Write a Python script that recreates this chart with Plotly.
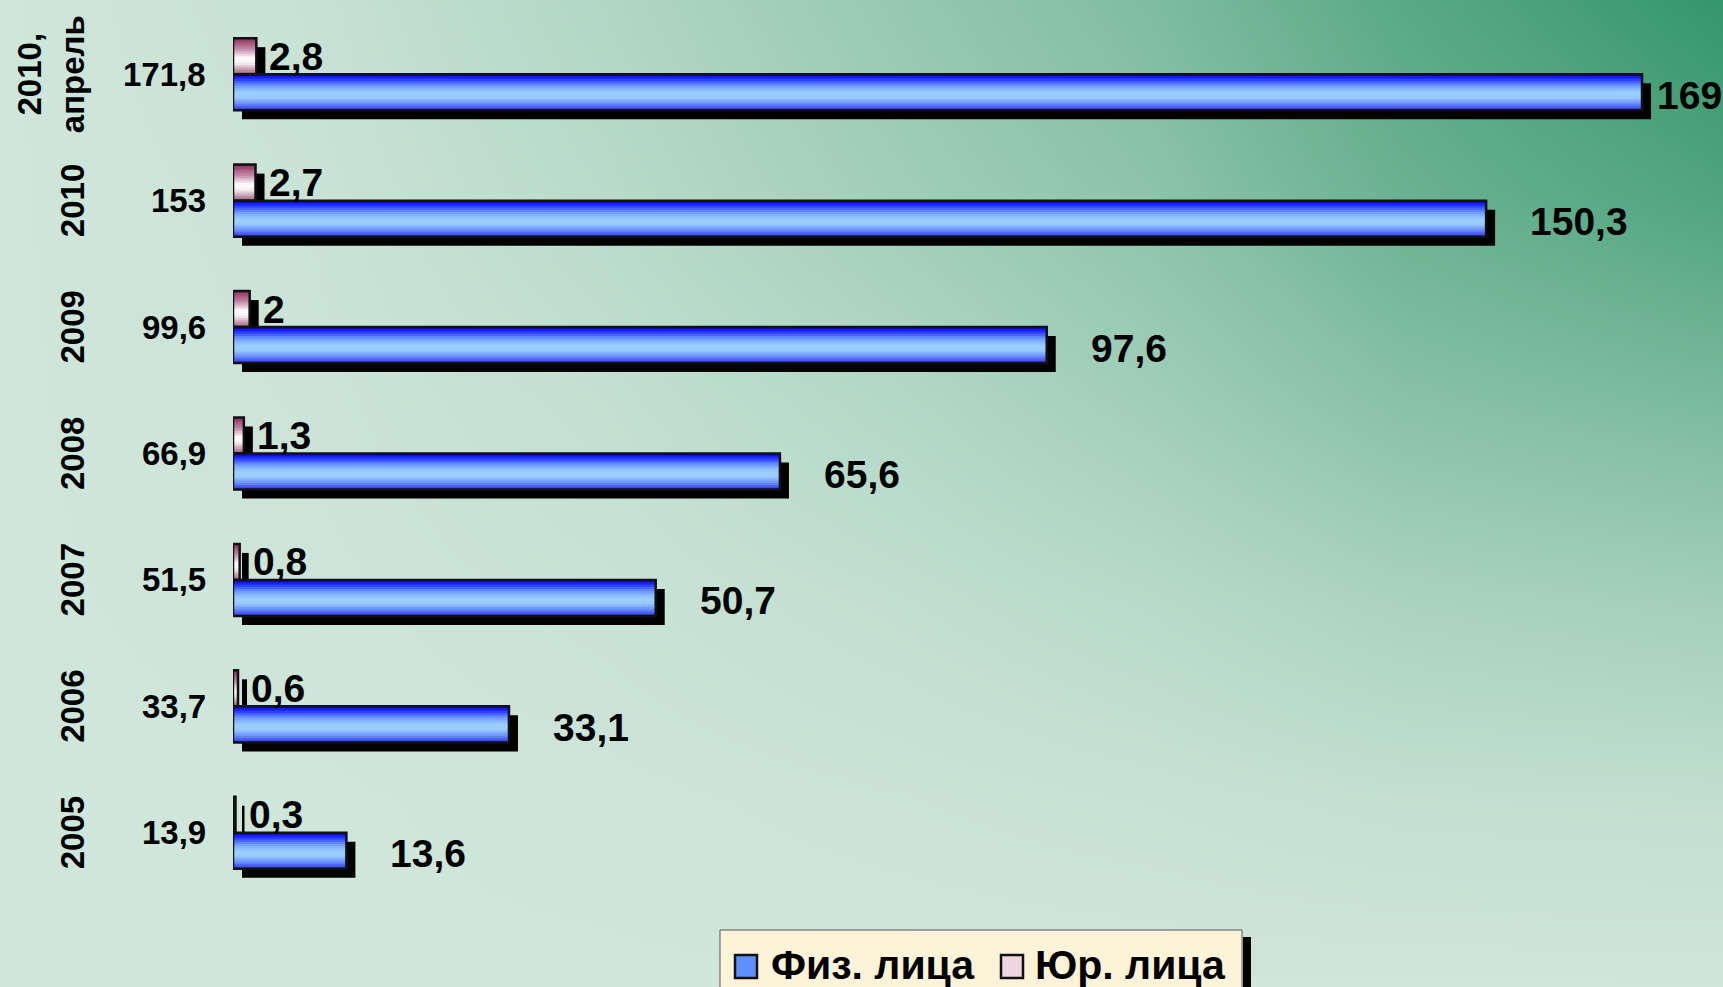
import plotly.graph_objects as go

# ---------------- data ----------------
years = ["2005", "2006", "2007", "2008", "2009", "2010", "2010,<br>апрель"]
fiz = [13.6, 33.1, 50.7, 65.6, 97.6, 150.3, 169]        # Физ. лица
yur = [0.3, 0.6, 0.8, 1.3, 2, 2.7, 2.8]                 # Юр. лица
totals = [13.9, 33.7, 51.5, 66.9, 99.6, 153, 171.8]
series_names = ["Физ. лица", "Юр. лица"]

# ---------------- geometry / style ----------------
W, H = 1723, 987
PL, PR = 233, 1720          # plot area left/right (px)
PT, PB = 11, 896            # plot area top/bottom (px)
XMAX = 178.35
pos = list(range(len(years)))
BH = 0.285                  # bar thickness (category units)
px_per_x = (PR - PL) / XMAX
px_per_y = (PB - PT) / 7.0
SHX = 9 / px_per_x
SHY = 9 / px_per_y
K = 16
FONT = "Liberation Sans, Arial, sans-serif"


def px2paper_x(p):
    return p / W


def px2paper_y(p):
    return 1 - p / H


def hex2rgb(h):
    h = h.lstrip("#")
    return tuple(int(h[i:i + 2], 16) for i in (0, 2, 4))


def grad(stops, f):
    for (f0, c0), (f1, c1) in zip(stops, stops[1:]):
        if f0 <= f <= f1:
            t = (f - f0) / (f1 - f0) if f1 > f0 else 0
            a, b = hex2rgb(c0), hex2rgb(c1)
            return "rgb(%d,%d,%d)" % tuple(round(a[i] + (b[i] - a[i]) * t) for i in range(3))
    return stops[-1][1]


fiz_stops = [(0, "#0000e0"), (0.12, "#1f2cff"), (0.32, "#6e9cff"), (0.5, "#9ccdff"),
             (0.64, "#9ccdff"), (0.82, "#6a8cff"), (1.0, "#2a30ee")]
yur_stops = [(0, "#8a2c5a"), (0.3, "#c48aa6"), (0.55, "#ffffff"), (0.7, "#f7eff3"),
             (1.0, "#9a5878")]

fig = go.Figure()

# ---------------- background gradient (heatmap on full paper) ----------------
bg_x = [0, 300, 600, 900, 1150, 1400, 1723]
bg_y = [0, 200, 400, 600, 800, 987]
bg_z = [
    [0.00, 0.05, 0.19, 0.37, 0.52, 0.76, 1.00],
    [0.00, 0.03, 0.14, 0.30, 0.43, 0.65, 0.82],
    [0.00, 0.02, 0.08, 0.18, 0.30, 0.46, 0.55],
    [0.00, 0.01, 0.04, 0.09, 0.15, 0.24, 0.29],
    [0.00, 0.00, 0.01, 0.03, 0.05, 0.08, 0.09],
    [0.00, 0.00, 0.00, 0.00, 0.00, 0.00, 0.00],
]
fig.add_trace(go.Heatmap(x=bg_x, y=bg_y, z=bg_z, zsmooth="best", zmin=0, zmax=1,
                         colorscale=[[0, "#cfe6da"], [1, "#35966a"]], showscale=False,
                         hoverinfo="skip", xaxis="x", yaxis="y"))

# ---------------- bars ----------------
specs = [
    (yur, 0.0, yur_stops),      # upper bar in the group
    (fiz, -BH, fiz_stops),      # lower bar in the group
]

# shadows
for vals, off, _ in specs:
    fig.add_trace(go.Bar(x=vals, y=pos, orientation="h", base=SHX, offset=off - SHY,
                         width=BH, marker=dict(color="black", line=dict(width=0)),
                         showlegend=False, hoverinfo="skip", xaxis="x2", yaxis="y2"))

# gradient strips
d = BH / K
for vals, off, stops in specs:
    for j in range(K):
        f = 1 - (j + 0.5) / K
        w = min(BH - j * d, 1.6 * d)
        fig.add_trace(go.Bar(x=vals, y=pos, orientation="h", offset=off + j * d, width=w,
                             marker=dict(color=grad(stops, f), line=dict(width=0)),
                             showlegend=False, hoverinfo="skip", xaxis="x2", yaxis="y2"))

# outlines
for vals, off, _ in specs:
    fig.add_trace(go.Bar(x=vals, y=pos, orientation="h", offset=off, width=BH,
                         marker=dict(color="rgba(0,0,0,0)", line=dict(color="#111111", width=2.5)),
                         showlegend=False, hoverinfo="skip", xaxis="x2", yaxis="y2"))


def fmt(v):
    return ("%g" % v).replace(".", ",")


ann = []
# year labels (rotated)
for p, lab in zip(pos, years):
    ann.append(dict(x=px2paper_x(93), xref="paper", y=p, yref="y2", text=lab, textangle=-90,
                    xanchor="right", yanchor="middle", showarrow=False,
                    font=dict(family=FONT, size=33, color="black", weight="bold")))
# totals
for p, v in zip(pos, totals):
    ann.append(dict(x=px2paper_x(208), xref="paper", y=p, yref="y2", text=fmt(v),
                    xanchor="right", yanchor="middle", showarrow=False,
                    font=dict(family=FONT, size=33, color="black", weight="bold")))
# Юр labels
for p, v in zip(pos, yur):
    ann.append(dict(x=v, xref="x2", y=p + BH / 2, yref="y2", text=fmt(v), xshift=11,
                    xanchor="left", yanchor="middle", showarrow=False,
                    font=dict(family=FONT, size=39, color="black", weight="bold")))
# Физ labels
LS = 39
for p, v in zip(pos, fiz):
    s = fmt(v)
    tw = sum(0.278 * LS if ch == "," else 0.556 * LS for ch in s)
    end_px = PL + v * px_per_x
    shift = min(42, PR - tw - end_px)
    ann.append(dict(x=v, xref="x2", y=p - BH / 2, yref="y2", text=s, xshift=shift, yshift=-3,
                    xanchor="left", yanchor="middle", showarrow=False,
                    font=dict(family=FONT, size=LS, color="black", weight="bold")))

# ---------------- legend (drawn box) ----------------
shapes = [
    dict(type="rect", xref="paper", yref="paper", x0=px2paper_x(1243), x1=px2paper_x(1251),
         y0=px2paper_y(1000), y1=px2paper_y(937), fillcolor="black", line=dict(width=0)),
    dict(type="rect", xref="paper", yref="paper", x0=px2paper_x(720), x1=px2paper_x(1242),
         y0=px2paper_y(1000), y1=px2paper_y(930), fillcolor="#fdf3d8",
         line=dict(color="#555555", width=1)),
    dict(type="rect", xref="paper", yref="paper", x0=px2paper_x(735), x1=px2paper_x(757),
         y0=px2paper_y(978), y1=px2paper_y(955), fillcolor="#5f8fff",
         line=dict(color="#111111", width=2.5)),
    dict(type="rect", xref="paper", yref="paper", x0=px2paper_x(1001), x1=px2paper_x(1023),
         y0=px2paper_y(978), y1=px2paper_y(955), fillcolor="#ecd6e0",
         line=dict(color="#111111", width=2.5)),
]
for name, xl in zip(series_names, [769, 1033]):
    ann.append(dict(x=px2paper_x(xl), xref="paper", y=px2paper_y(965), yref="paper", text=name,
                    xanchor="left", yanchor="middle", showarrow=False,
                    font=dict(family=FONT, size=41, color="black", weight="bold")))

fig.update_layout(
    width=W, height=H, margin=dict(l=0, r=0, t=0, b=0),
    paper_bgcolor="#cfe6da", plot_bgcolor="rgba(0,0,0,0)",
    barmode="overlay", showlegend=False,
    xaxis=dict(domain=[0, 1], range=[0, W], visible=False, fixedrange=True),
    yaxis=dict(domain=[0, 1], range=[H, 0], visible=False, fixedrange=True),
    xaxis2=dict(domain=[PL / W, PR / W], range=[0, XMAX], visible=False, anchor="y2"),
    yaxis2=dict(domain=[1 - PB / H, 1 - PT / H], range=[-0.5, 6.5], visible=False, anchor="x2"),
    annotations=ann, shapes=shapes,
)

fig.write_html("out.html", config={"displayModeBar": False},
               post_script="document.body.style.margin='0';document.body.style.overflow='hidden';")
